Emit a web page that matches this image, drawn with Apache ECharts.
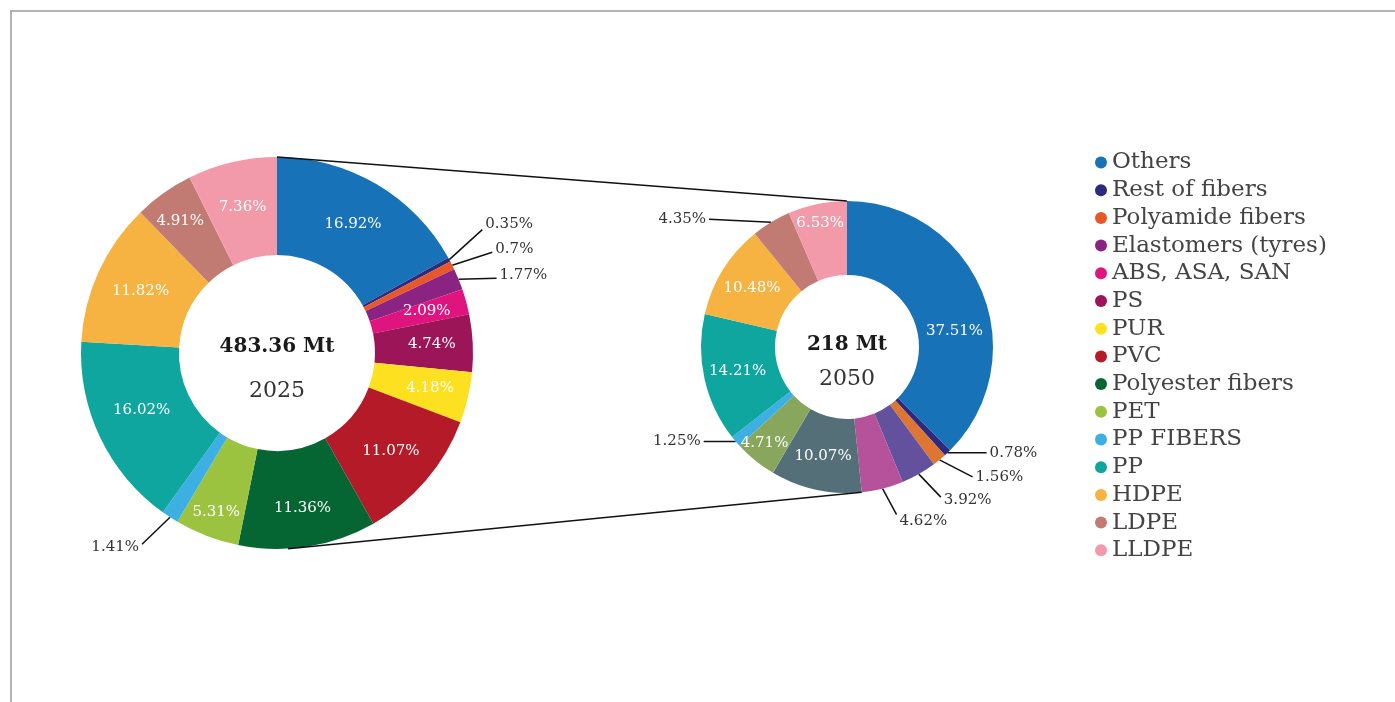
<!DOCTYPE html>
<html>
<head>
<meta charset="utf-8">
<style>
html, body { margin: 0; padding: 0; background: #fff; }
#frame { position: absolute; left: 10px; top: 10px; right: 0; bottom: 0; border-top: 2px solid #b3b3b3; border-left: 2px solid #b3b3b3; }
#main { position: absolute; left: 0; top: 0; width: 1395px; height: 702px; }
</style>
<script src="https://cdn.jsdelivr.net/npm/echarts@6/dist/echarts.min.js"></script>
</head>
<body>
<div id="frame"></div>
<div id="main"></div>
<script>
// 2025
const names2025 = ['Others', 'Rest of fibers', 'Polyamide fibers', 'Elastomers (tyres)', 'ABS, ASA, SAN', 'PS', 'PUR', 'PVC', 'Polyester fibers', 'PET', 'PP FIBERS', 'PP', 'HDPE', 'LDPE', 'LLDPE']
const values2025 = [16.92, 0.35, 0.7, 1.77, 2.09, 4.74, 4.18, 11.07, 11.36, 5.31, 1.41, 16.02, 11.82, 4.91, 7.36]
// 2050
const names2050 = ['Others', 'Rest of fibers', 'Polyamide fibers', 'Elastomers (tyres)', 'ABS, ASA, SAN', 'Polyester fibers', 'PET', 'PP FIBERS', 'PP', 'HDPE', 'LDPE', 'LLDPE']
const values2050 = [37.51, 0.78, 1.56, 3.92, 4.62, 10.07, 4.71, 1.25, 14.21, 10.48, 4.35, 6.53]
// 中心文字
const totals = ['483.36 Mt', '218 Mt']
const years = ['2025', '2050']

// 颜色
const colors2025 = ['#1872b7', '#2e2a7e', '#e8572a', '#8a2382', '#e0147f', '#9b1558', '#fde01f', '#b51a28', '#066633', '#9bc33f', '#3cb0e3', '#0fa6a0', '#f6b342', '#c27b73', '#f29aa9']
const colors2050 = ['#1872b7', '#2e2a7e', '#dd7533', '#63519d', '#b5529b', '#546f78', '#88a75d', '#3cb0e3', '#0fa6a0', '#f6b342', '#c27b73', '#f29aa9']

// 外部标签：引导线终点相对扇区外缘的偏移 [dx, dy, 文字dy]
const outer2025 = { 1: [33, -30, -5], 2: [40, -13, -3], 3: [38, -1, -3], 10: [-28, 27, 3] }
const outer2050 = { 1: [39, 0, 0], 2: [33, 17, 0], 3: [22, 23, 3], 4: [14, 26, 7], 7: [-32, 0, 0], 10: [-62, -3, 0] }
// 内部标签微调 [dx, dy]
const inner2025 = { 4: [5, -3], 5: [5, -1], 6: [7, 1], 8: [2, 7], 9: [-7, 19], 11: [0, -8], 13: [-10, -10] }
const inner2050 = { 0: [4, 27], 6: [-12, 9], 11: [-4, -14] }

const FONT = 'DejaVu Serif'
const C1 = [277, 353], R1 = [98, 196]
const C2 = [847, 347], R2 = [72, 146]

function buildData(names, values, colors, outer) {
  return values.map((v, i) => {
    const item = { name: names[i], value: v, itemStyle: { color: colors[i] } }
    if (outer[i]) {
      item.label = { position: 'outside', color: '#333' }
      item.labelLine = { show: true, length: 10, length2: 10, lineStyle: { color: '#111', width: 1.5 } }
    }
    return item
  })
}

function arcPoint(c, r, frac) {
  const a = frac * 2 * Math.PI
  return [c[0] + r * Math.sin(a), c[1] - r * Math.cos(a)]
}

function layoutLabel(p) {
  const r = p.labelRect
  const inner = (p.seriesIndex === 0 ? inner2025 : inner2050)[p.dataIndex]
  if (inner) {
    return { x: r.x + r.width / 2 + inner[0], y: r.y + r.height / 2 + inner[1] }
  }
  const off = (p.seriesIndex === 0 ? outer2025 : outer2050)[p.dataIndex]
  if (off && p.labelLinePoints) {
    const p0 = p.labelLinePoints[0]
    const end = [p0[0] + off[0], p0[1] + off[1]]
    const right = off[0] >= 0
    return {
      x: end[0] + (right ? 3 : -3),
      y: end[1] + off[2],
      labelLinePoints: [p0, end]
    }
  }
  return {}
}

const sum2050 = values2050.reduce((a, b) => a + b, 0)
const linkFrac = values2050.slice(0, 5).reduce((a, b) => a + b, 0) / sum2050
const topA = arcPoint(C1, R1[1], 0), topB = arcPoint(C2, R2[1], 0)
const botA = arcPoint(C1, R1[1], 0.491), botB = arcPoint(C2, R2[1], linkFrac)

const pieBase = {
  type: 'pie',
  clockwise: true,
  startAngle: 90,
  avoidLabelOverlap: false,
  label: {
    show: true,
    position: 'inside',
    formatter: p => p.value + '%',
    fontFamily: FONT,
    fontSize: 15,
    color: '#fff'
  },
  labelLine: { show: false },
  labelLayout: layoutLabel,
  emphasis: { scale: false }
}

const chart = echarts.init(document.getElementById('main'))
chart.setOption({
  animation: false,
  textStyle: { fontFamily: FONT },
  legend: {
    orient: 'vertical',
    left: 1090,
    top: 146,
    icon: 'circle',
    itemWidth: 12,
    itemHeight: 12,
    itemGap: 4.7,
    data: names2025,
    textStyle: { fontFamily: FONT, fontSize: 23, color: '#444', lineHeight: 23 }
  },
  graphic: [
    { type: 'line', shape: { x1: topA[0], y1: topA[1], x2: topB[0], y2: topB[1] }, style: { stroke: '#111', lineWidth: 1.5 }, z: 10 },
    { type: 'line', shape: { x1: botA[0], y1: botA[1], x2: botB[0], y2: botB[1] }, style: { stroke: '#111', lineWidth: 1.5 }, z: 10 },
    { type: 'text', x: C1[0], y: C1[1] - 6, style: { text: totals[0], font: 'bold 20px "' + FONT + '"', fill: '#1a1a1a', align: 'center', verticalAlign: 'middle' }, z: 10 },
    { type: 'text', x: C1[0], y: C1[1] + 38, style: { text: years[0], font: '22px "' + FONT + '"', fill: '#333', align: 'center', verticalAlign: 'middle' }, z: 10 },
    { type: 'text', x: C2[0], y: C2[1] - 2, style: { text: totals[1], font: 'bold 20px "' + FONT + '"', fill: '#1a1a1a', align: 'center', verticalAlign: 'middle' }, z: 10 },
    { type: 'text', x: C2[0], y: C2[1] + 32, style: { text: years[1], font: '22px "' + FONT + '"', fill: '#333', align: 'center', verticalAlign: 'middle' }, z: 10 }
  ],
  series: [
    Object.assign({}, pieBase, {
      name: '2025',
      center: C1,
      radius: R1,
      data: buildData(names2025, values2025, colors2025, outer2025)
    }),
    Object.assign({}, pieBase, {
      name: '2050',
      center: C2,
      radius: R2,
      data: buildData(names2050, values2050, colors2050, outer2050)
    })
  ]
})
</script>
</body>
</html>
